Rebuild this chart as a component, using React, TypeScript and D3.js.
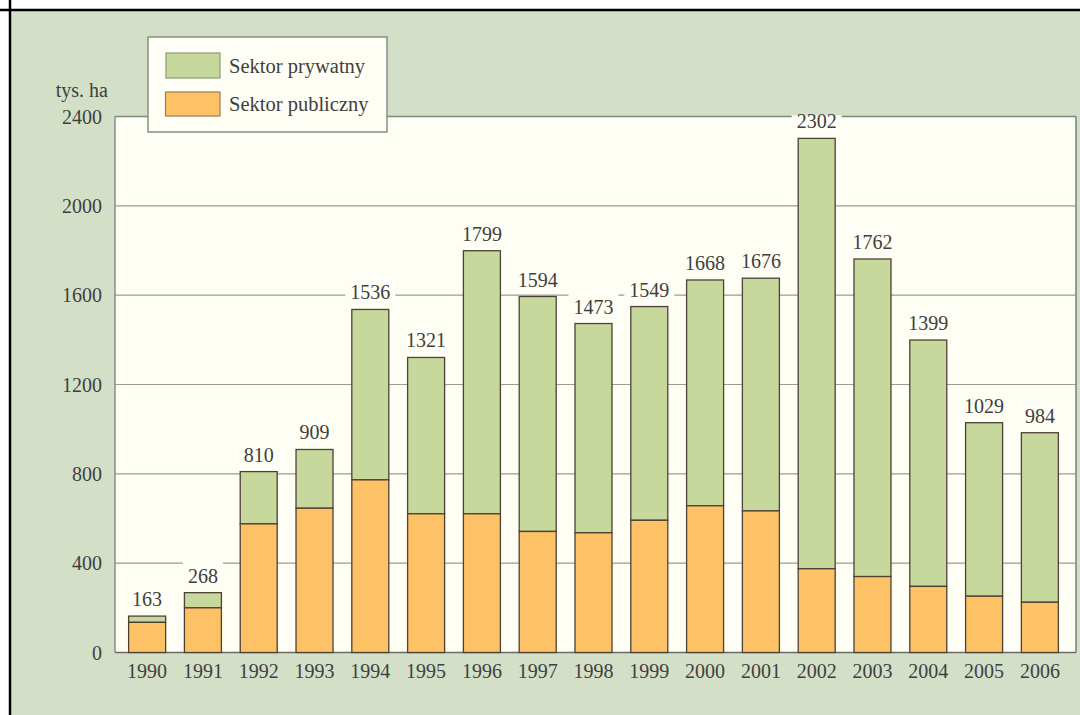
import React from "react";
import * as d3 from "d3";

const years = ["1990","1991","1992","1993","1994","1995","1996","1997","1998","1999","2000","2001","2002","2003","2004","2005","2006"];
const totals = [163, 268, 810, 909, 1536, 1321, 1799, 1594, 1473, 1549, 1668, 1676, 2302, 1762, 1399, 1029, 984];
const publicSector = [135, 200, 576, 646, 773, 621, 621, 542, 536, 592, 657, 634, 375, 340, 296, 252, 225];
const privateSector = [28, 68, 234, 263, 763, 700, 1178, 1052, 937, 957, 1011, 1042, 1927, 1422, 1103, 777, 759];
const yTicks = [0, 400, 800, 1200, 1600, 2000, 2400];
const seriesNames = ["Sektor prywatny", "Sektor publiczny"];
const unitLabel = "tys. ha";

const W = 1080, H = 715;
const plot = { left: 115, right: 1076, top: 116.5, bottom: 652.5 };
const FONT = "'Liberation Serif', 'Times New Roman', serif";
const TEXT = "#3f3f3f";
const GREEN = "#c7d89c";
const ORANGE = "#fdc266";
const BAR_STROKE = "#4d4035";
const PLOT_BG = "#fefef4";
const PAGE_BG = "#d3e0c7";
const GRID = "#9a9d95";

export default function App() {
  const x = d3.scaleBand<string>().domain(years).range([113, 1074]).paddingInner(0.337).paddingOuter(0.28);
  const y = d3.scaleLinear().domain([0, 2400]).range([plot.bottom, plot.top]);
  const bw = x.bandwidth();

  return (
    <svg width={W} height={H} style={{ position: "absolute", left: 0, top: 0 }} fontFamily={FONT}>
      <defs>
        <clipPath id="plotclip">
          <rect x={plot.left + 1} y={plot.top - 1.2} width={plot.right - plot.left - 2} height={plot.bottom - plot.top} />
        </clipPath>
      </defs>
      <rect x={0} y={0} width={W} height={H} fill="#ffffff" />
      <rect x={10} y={10} width={W - 10} height={H - 10} fill={PAGE_BG} />
      <line x1={10} y1={0} x2={10} y2={H} stroke="#000" strokeWidth={2.5} />
      <line x1={0} y1={10} x2={W} y2={10} stroke="#000" strokeWidth={2.5} />

      {/* plot area */}
      <rect x={plot.left} y={plot.top} width={plot.right - plot.left} height={plot.bottom - plot.top} fill={PLOT_BG} />
      {yTicks.filter(t => t > 0 && t < 2400).map(t => (
        <line key={t} x1={plot.left} x2={plot.right} y1={y(t)} y2={y(t)} stroke={GRID} strokeWidth={1.2} />
      ))}
      <line x1={plot.left} x2={plot.right} y1={plot.top} y2={plot.top} stroke="#7c8880" strokeWidth={1.6} />
      <line x1={plot.left} x2={plot.left} y1={plot.top} y2={plot.bottom} stroke="#7c8880" strokeWidth={1.4} />
      <line x1={plot.right} x2={plot.right} y1={plot.top} y2={plot.bottom} stroke="#7c8880" strokeWidth={1.6} />
      <line x1={plot.left} x2={plot.right} y1={plot.bottom} y2={plot.bottom} stroke="#6a6a66" strokeWidth={1.4} />

      {/* label knockouts */}
      <g clipPath="url(#plotclip)">
        {years.map((yr, i) => {
          const cx = (x(yr) ?? 0) + bw / 2;
          const base = y(totals[i]) - 10;
          const tw = String(totals[i]).length * 10;
          return <rect key={"bg" + yr} x={cx - tw / 2 - 5} y={base - 21} width={tw + 10} height={25} fill={PLOT_BG} />;
        })}
      </g>

      {/* bars */}
      {years.map((yr, i) => {
        const bx = x(yr) ?? 0;
        const yPub = y(publicSector[i]);
        const yTot = y(publicSector[i] + privateSector[i]);
        return (
          <g key={yr}>
            <rect x={bx} y={yTot} width={bw} height={yPub - yTot} fill={GREEN} stroke={BAR_STROKE} strokeWidth={1.3} />
            <rect x={bx} y={yPub} width={bw} height={plot.bottom - yPub} fill={ORANGE} stroke={BAR_STROKE} strokeWidth={1.3} />
          </g>
        );
      })}

      {/* value labels */}
      {years.map((yr, i) => (
        <text key={"v" + yr} x={(x(yr) ?? 0) + bw / 2} y={y(totals[i]) - 10} textAnchor="middle" fontSize={20} fill={TEXT}>
          {totals[i]}
        </text>
      ))}

      {/* y tick labels */}
      {yTicks.map(t => (
        <text key={"t" + t} x={102} y={y(t)} dy="0.35em" textAnchor="end" fontSize={20} fill={TEXT}>{t}</text>
      ))}
      <text x={108} y={97} textAnchor="end" fontSize={20} fill={TEXT}>{unitLabel}</text>

      {/* x labels */}
      {years.map(yr => (
        <text key={"x" + yr} x={(x(yr) ?? 0) + bw / 2} y={678} textAnchor="middle" fontSize={20} fill={TEXT}>{yr}</text>
      ))}

      {/* legend */}
      <rect x={148} y={37} width={239} height={95} fill={PLOT_BG} stroke="#868f8a" strokeWidth={1.5} />
      <rect x={166} y={53} width={54} height={25} fill={GREEN} stroke="#8c9a78" strokeWidth={1.2} />
      <rect x={165.5} y={92} width={54.5} height={24} fill={ORANGE} stroke="#a07a50" strokeWidth={1.2} />
      <text x={229} y={73} fontSize={20.5} fill={TEXT}>{seriesNames[0]}</text>
      <text x={229} y={111} fontSize={20.5} fill={TEXT}>{seriesNames[1]}</text>
    </svg>
  );
}
